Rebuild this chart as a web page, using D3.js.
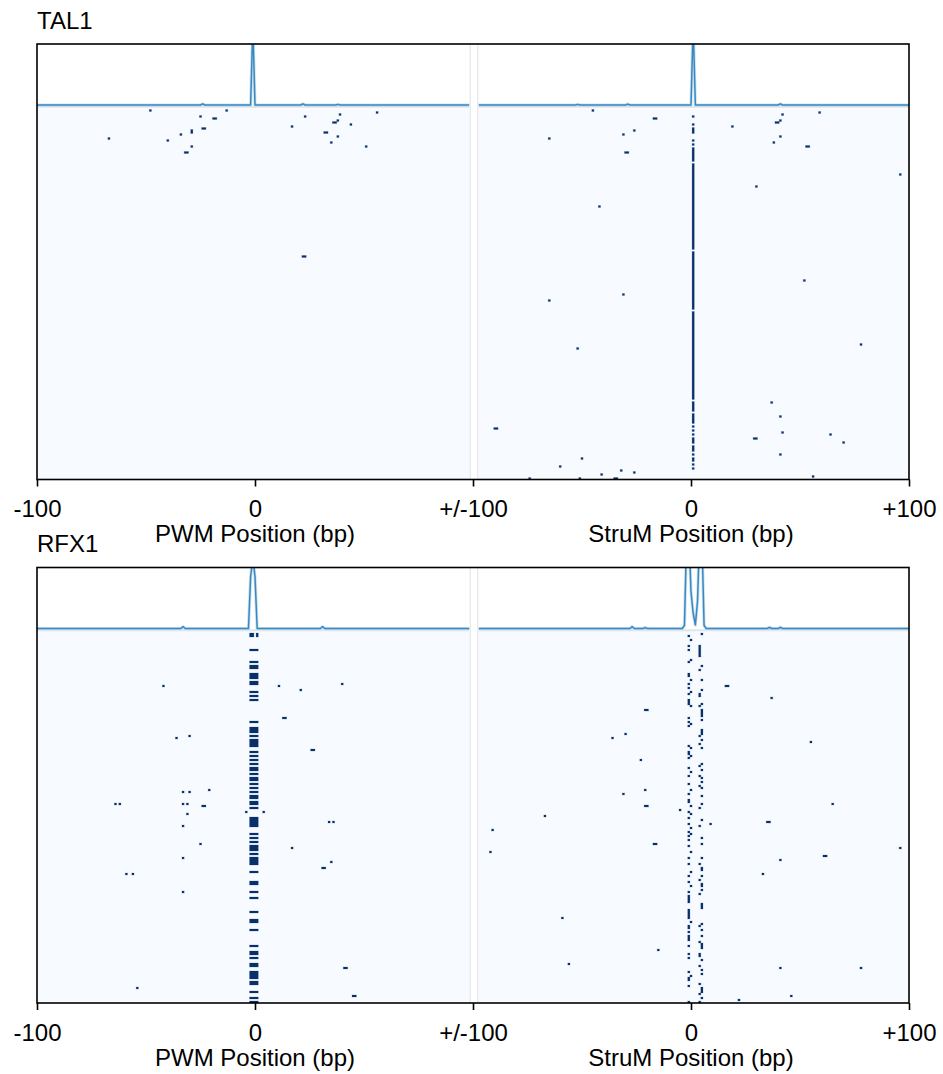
<!DOCTYPE html>
<html>
<head>
<meta charset="utf-8">
<script src="https://cdn.jsdelivr.net/npm/d3@7/dist/d3.min.js"></script>
<style>
  body { margin: 0; background: #fff; }
  svg { display: block; }
  text { font-family: "Liberation Sans", Arial, Helvetica, sans-serif; fill: #000; }
</style>
</head>
<body>
<svg id="chart" width="943" height="1074"></svg>
<script>
// ---- data -------------------------------------------------------------
const factors = ["TAL1", "RFX1"];
const axisTitles = ["PWM Position (bp)", "StruM Position (bp)"];
const tickValues = [0, 100, 200, 300, 400];          // position on the joined track
const tickLabels = ["-100", "0", "+/-100", "0", "+100"];
const nSequences = 186;                                // rows in each heatmap

// Profile above each heatmap: [position (bp), signal]; unlisted positions are 0
const tal1PwmProfile   = [[-24, 0.02], [-1, 1.3], [22, 0.02], [38, 0.01]];
const tal1StrumProfile = [[-52, 0.01], [-29, 0.015], [1, 1.3], [41, 0.02]];
const rfx1PwmProfile   = [[-33, 0.03], [-2, 0.85], [-1, 1.15], [0, 0.85], [31, 0.03]];
const rfx1StrumProfile = [[-27, 0.03], [-21, 0.015], [-3, 0.05], [-2, 1.5], [-1, 1.6], [0, 0.6],
                          [1, 0.25], [2, 0.06], [3, 0.45], [4, 1.6], [5, 1.5], [6, 0.05],
                          [36, 0.02], [41, 0.02]];

// Site hits: [position (bp), row, rows spanned, positions spanned]
const tal1PwmHits = [
  [-48, 1], [-13, 1], [-67, 15], [-40, 16], [-34, 13], [-29, 11, 2], [-25, 4],
  [-19, 5, 1, 2], [-24, 10, 1, 2], [-29, 19], [-32, 22, 1, 2], [22, 74, 1, 2],
  [17, 9], [23, 4], [39, 3], [36, 7, 1, 2], [38, 6], [44, 8], [32, 12, 1, 2],
  [38, 14], [35, 17], [51, 19], [56, 2]
];
const tal1StrumHits = [
  [-45, 1], [-17, 5, 1, 2], [-65, 15], [-31, 13], [-26, 11], [-30, 22, 1, 2],
  [19, 9], [42, 3], [39, 7, 1, 2], [41, 6], [59, 2], [41, 14], [38, 17], [53, 19, 1, 2],
  [30, 39], [96, 33], [-42, 49], [52, 86], [-65, 96], [-31, 93], [-52, 120], [78, 118],
  [37, 147], [41, 154], [42, 162], [29, 165, 1, 2], [64, 163], [70, 167], [41, 173],
  [56, 184], [-90, 160, 1, 2], [-60, 179], [-50, 175], [-41, 183], [-32, 181],
  [-26, 182], [-51, 185], [-35, 185, 1, 2], [-74, 185],
  // hits stacked on the motif centre
  [1, 4], [1, 8], [1, 10, 3], [1, 16], [1, 18], [1, 20, 7], [1, 28, 43], [1, 72, 29],
  [1, 102, 44], [1, 147, 5], [1, 153, 5], [1, 159], [1, 161], [1, 163], [1, 165, 3],
  [1, 169, 3], [1, 173], [1, 175, 2], [1, 178], [1, 180]
];
const rfx1PwmHits = [
  // motif-wide hits at the centre
  [-2, 1, 2, 2], [1, 1, 2, 1],
  [-2, 9, 1, 4], [-2, 15, 1, 4], [-2, 17, 2, 4], [-2, 21, 3, 4], [-2, 25, 2, 4],
  [-2, 30, 1, 4], [-2, 32, 1, 4], [-2, 34, 1, 4], [-2, 45, 1, 4], [-2, 48, 3, 4],
  [-2, 52, 1, 4], [-2, 54, 4, 4], [-2, 60, 1, 4], [-2, 62, 1, 4], [-2, 64, 1, 4],
  [-2, 66, 1, 4], [-2, 68, 2, 4], [-2, 71, 1, 4], [-2, 73, 2, 4], [-2, 76, 1, 4],
  [-2, 78, 1, 4], [-2, 80, 1, 4], [-2, 82, 2, 4], [-2, 85, 2, 4], [-2, 88, 1, 4],
  [-2, 93, 5, 4], [-2, 101, 1, 4], [-2, 103, 1, 4], [-2, 105, 1, 4], [-2, 107, 3, 4],
  [-2, 111, 1, 4], [-2, 113, 4, 4], [-2, 120, 1, 4], [-2, 125, 2, 4], [-2, 130, 1, 4],
  [-2, 133, 1, 4], [-2, 140, 1, 4], [-2, 144, 2, 4], [-2, 149, 1, 4], [-2, 157, 1, 4],
  [-2, 160, 2, 4], [-2, 163, 1, 4], [-2, 166, 2, 4], [-2, 170, 4, 4], [-2, 175, 2, 4],
  [-2, 180, 1, 4], [-2, 183, 1, 4], [-2, 185, 1, 4],
  // scattered hits
  [-42, 27], [11, 27], [21, 29], [40, 26], [13, 43, 1, 2], [-36, 53], [-30, 52],
  [26, 59, 1, 2], [-64, 86], [-62, 86], [-33, 80], [-30, 80], [-21, 79], [-33, 86],
  [-31, 86], [-24, 87, 1, 2], [-31, 91], [-33, 97], [-4, 90], [4, 90], [34, 95],
  [36, 95], [-25, 106], [-33, 113], [17, 108], [35, 115], [31, 118, 1, 2], [-59, 121],
  [-56, 121], [-33, 130], [41, 168, 1, 2], [-54, 178], [45, 182, 1, 2]
];
const rfx1StrumHits = [
  // scattered hits
  [16, 27, 1, 2], [37, 33], [-21, 39, 1, 2], [-30, 51], [-36, 53], [55, 55], [-23, 64],
  [-21, 79], [-31, 81], [-21, 87, 1, 2], [-5, 89], [9, 96], [35, 95, 1, 2], [-67, 92],
  [65, 86], [-91, 99], [-92, 110], [-17, 106, 1, 2], [41, 114], [33, 121],
  [61, 112, 1, 2], [96, 108], [-59, 143], [-15, 159], [-56, 166], [41, 168], [78, 168],
  [46, 182], [22, 184],
  // left half-site column
  [-1, 2], [0, 4], [-1, 7], [-1, 9], [0, 14], [-1, 15], [-1, 21, 2], [0, 24], [-1, 26],
  [-1, 28], [0, 30], [-1, 31], [-1, 34, 3], [0, 37], [-1, 43], [-1, 45], [0, 46],
  [-1, 47], [-1, 57], [0, 58], [-1, 60, 2], [0, 62], [-1, 63], [-1, 68], [0, 70],
  [-1, 72], [-1, 76], [0, 79], [-1, 81], [-1, 84, 2], [0, 87], [-1, 90], [0, 91],
  [-1, 93], [-1, 96], [0, 98], [-1, 100], [0, 101], [-1, 102], [-1, 104], [-1, 107],
  [0, 110], [-1, 113], [-1, 116], [0, 120], [-1, 122], [-1, 125], [0, 127], [-1, 130],
  [-1, 132, 4], [-1, 139, 5], [0, 145], [-1, 147, 2], [-1, 150], [-1, 152, 3],
  [-1, 157], [-1, 161], [-1, 163], [-1, 170], [0, 172], [-1, 173, 2], [-1, 177], [-1, 185],
  // right half-site column
  [5, 1], [4, 7, 6], [5, 17], [4, 19], [5, 24], [5, 29], [4, 31, 2], [5, 36], [4, 37],
  [5, 39, 4], [5, 44], [5, 49, 3], [4, 52], [5, 54], [4, 56], [5, 58], [5, 66], [4, 67],
  [5, 69], [4, 72], [5, 73], [5, 75], [4, 77], [5, 78], [5, 82], [5, 86], [4, 88],
  [5, 94], [4, 97], [5, 103], [5, 106], [5, 113], [4, 116], [5, 118, 2], [5, 122],
  [4, 124], [5, 126, 2], [5, 129], [4, 131], [5, 136, 3], [5, 146], [4, 147], [5, 149],
  [5, 152], [4, 155], [5, 156, 3], [4, 161, 2], [5, 164], [4, 167], [5, 169], [5, 171],
  [4, 176], [5, 178, 3], [4, 181], [5, 183], [4, 185]
];

const panelData = [
  { name: factors[0], profiles: [tal1PwmProfile, tal1StrumProfile], hits: [tal1PwmHits, tal1StrumHits] },
  { name: factors[1], profiles: [rfx1PwmProfile, rfx1StrumProfile], hits: [rfx1PwmHits, rfx1StrumHits] }
];

// ---- layout -----------------------------------------------------------
const svg = d3.select("#chart");
const left = 37, right = 909;
const panelTops = [44, 567.5];
const panelHeight = 435.5;
const profileHeight = 61;
const fontSize = 24;

const colors = {
  heatBg: "#f7fbff",
  hit: "#08306b",
  line: "#3a87c1",
  halo: "#9ecae1",
  band: "#dfe6ee",
  gapEdge: "#e9ecef"
};

// joined track: PWM occupies 0..200, StruM 200..400
const x = d3.scaleLinear().domain([0, 400]).range([left, right]);
const track = (half, bp) => half * 200 + bp + 100;
const cellW = x(1) - x(0);
const gapLeft = x(200) - 3.5, gapRight = x(200) + 5.5;

panelData.forEach((panel, pi) => {
  const top = panelTops[pi];
  const bottom = top + panelHeight;
  const baseline = top + profileHeight;
  const heatTop = baseline + 2.5;

  const yRow = d3.scaleLinear().domain([0, nSequences]).range([heatTop, bottom]);
  const yProf = d3.scaleLinear().domain([0, 1]).range([baseline, top]);

  const g = svg.append("g");
  const clipId = "clip" + pi;
  g.append("clipPath").attr("id", clipId)
    .append("rect").attr("x", left).attr("y", top)
    .attr("width", right - left).attr("height", panelHeight);

  const body = g.append("g").attr("clip-path", `url(#${clipId})`);

  // heatmap background and the band under the profile
  body.append("rect").attr("x", left).attr("y", heatTop)
    .attr("width", right - left).attr("height", bottom - heatTop)
    .attr("fill", colors.heatBg);
  body.append("rect").attr("x", left).attr("y", baseline + 0.8)
    .attr("width", right - left).attr("height", 2)
    .attr("fill", colors.band);

  // hits
  panel.hits.forEach((hits, half) => {
    body.append("g").selectAll("rect").data(hits).join("rect")
      .attr("x", d => x(track(half, d[0])) - cellW / 2)
      .attr("y", d => yRow(d[1]))
      .attr("width", d => cellW * (d[3] || 1))
      .attr("height", d => yRow(d[1] + (d[2] || 1)) - yRow(d[1]))
      .attr("fill", colors.hit)
      .attr("stroke", colors.hit)
      .attr("stroke-opacity", 0.22)
      .attr("stroke-width", 0.9);
  });

  // profiles
  panel.profiles.forEach((prof, half) => {
    const lookup = new Map(prof);
    const series = d3.range(-100, 101).map(bp => [bp, lookup.get(bp) || 0]);
    const line = d3.line()
      .x(d => x(track(half, d[0])))
      .y(d => yProf(d[1]));
    body.append("path").datum(series)
      .attr("d", line).attr("fill", "none")
      .attr("stroke", colors.halo).attr("stroke-width", 3.2)
      .attr("stroke-opacity", 0.55).attr("stroke-linejoin", "round");
    body.append("path").datum(series)
      .attr("d", line).attr("fill", "none")
      .attr("stroke", colors.line).attr("stroke-width", 1.5)
      .attr("stroke-linejoin", "round");
  });

  // separator between the two halves
  body.append("rect").attr("x", gapLeft).attr("y", top)
    .attr("width", gapRight - gapLeft).attr("height", panelHeight)
    .attr("fill", "#fff");
  [gapLeft + 0.75, gapRight - 0.75].forEach(gx => {
    body.append("line").attr("x1", gx).attr("x2", gx)
      .attr("y1", top).attr("y2", bottom)
      .attr("stroke", colors.gapEdge).attr("stroke-width", 1.5);
  });

  // frame
  g.append("rect").attr("x", left).attr("y", top)
    .attr("width", right - left).attr("height", panelHeight)
    .attr("fill", "none").attr("stroke", "#000").attr("stroke-width", 1.6);

  // title
  g.append("text").attr("x", left).attr("y", top - 15.5)
    .attr("font-size", fontSize).text(panel.name);

  // axis
  const axis = d3.axisBottom(x)
    .tickValues(tickValues)
    .tickFormat((d, i) => tickLabels[i])
    .tickSize(7)
    .tickPadding(13.5);
  const ax = g.append("g").attr("transform", `translate(0,${bottom})`).call(axis);
  ax.select(".domain").remove();
  ax.selectAll(".tick line").attr("stroke", "#000").attr("stroke-width", 1.6);
  ax.selectAll(".tick text").attr("font-size", fontSize)
    .attr("font-family", "Liberation Sans, Arial, sans-serif").attr("fill", "#000");

  axisTitles.forEach((t, half) => {
    g.append("text")
      .attr("x", x(track(half, 0)))
      .attr("y", bottom + 62.5)
      .attr("text-anchor", "middle")
      .attr("font-size", fontSize)
      .text(t);
  });
});
</script>
</body>
</html>
